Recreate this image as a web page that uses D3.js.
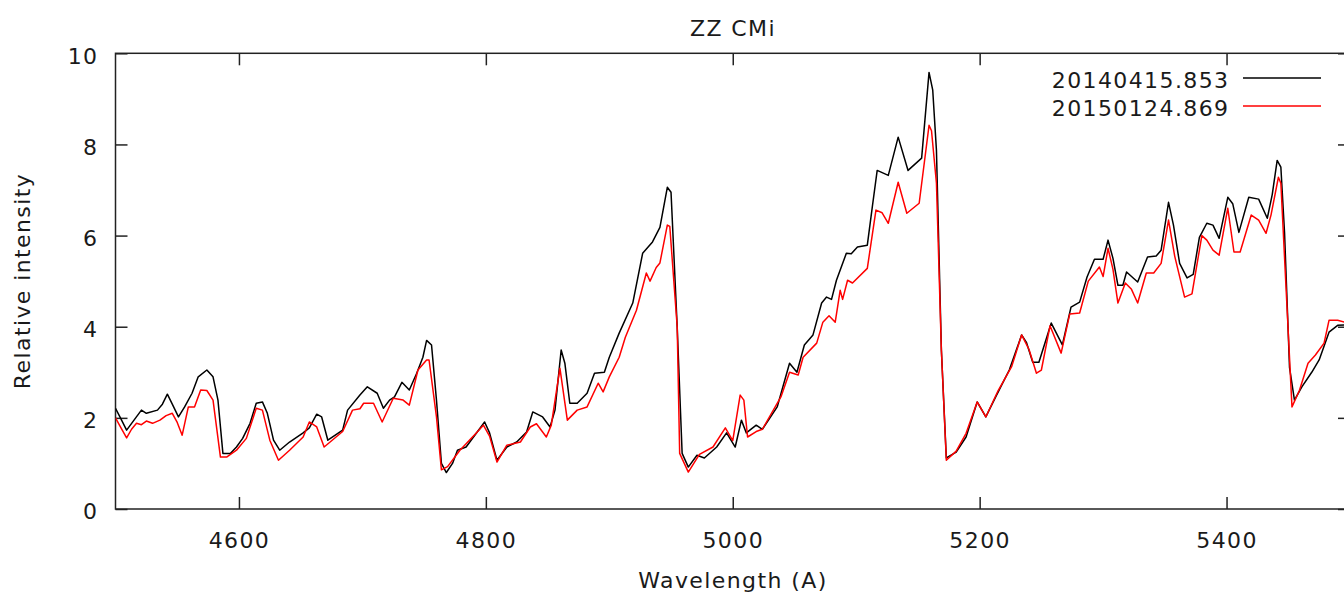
<!DOCTYPE html>
<html>
<head>
<meta charset="utf-8">
<script src="https://cdn.jsdelivr.net/npm/d3@7"></script>
<style>
  body { margin: 0; background: #fff; }
  text { font-family: "DejaVu Sans", Verdana, sans-serif; font-size: 22px; fill: #1a1a1a; letter-spacing: 1.4px; }
</style>
</head>
<body>
<div id="chart"></div>
<script>
// spectrum samples (wavelength in A, relative intensity)
var blackWave = [4500,4504,4509,4515,4521,4525,4534,4538,4542,4546,4551,4556,4562,4567,4574,4579,4583,4587,4593,4598,
	4603,4609,4614,4619,4623,4628,4633,4641,4652,4657,4663,4667,4672,4684,4688,4698,4704,4712,4717,4722,
	4726,4732,4738,4744,4749,4752,4756,4760,4764,4768,4773,4777,4784,4793,4799,4803,4809,4817,4825,4833,
	4838,4846,4852,4856,4861,4864,4868,4874,4882,4888,4896,4900,4908,4919,4927,4935,4941,4947,4950,4955,
	4959,4964,4971,4977,4987,4995,5002,5007,5011,5019,5024,5036,5046,5052,5058,5065,5072,5076,5080,5084,
	5092,5096,5101,5109,5113,5117,5126,5134,5142,5153,5159,5162,5165,5169,5173,5181,5189,5198,5205,5213,
	5224,5234,5238,5243,5248,5258,5267,5274,5281,5287,5293,5300,5304,5308,5312,5316,5319,5328,5336,5343,
	5347,5353,5357,5362,5368,5373,5378,5384,5389,5394,5401,5405,5410,5418,5426,5433,5437,5441,5444,5447,
	5451,5455,5461,5469,5475,5483,5490,5500];
var blackFlux = [2.21,2.0,1.73,1.95,2.17,2.1,2.17,2.3,2.52,2.3,2.02,2.24,2.54,2.9,3.05,2.9,2.39,1.22,1.22,1.36,
	1.55,1.88,2.32,2.35,2.1,1.51,1.29,1.47,1.67,1.78,2.08,2.02,1.51,1.73,2.17,2.5,2.68,2.54,2.21,2.39,
	2.46,2.78,2.61,2.98,3.33,3.7,3.6,2.39,1.0,0.8,1.0,1.29,1.36,1.69,1.91,1.67,1.07,1.36,1.47,1.69,
	2.13,2.02,1.8,2.17,3.49,3.2,2.32,2.32,2.54,2.98,3.0,3.33,3.86,4.52,5.61,5.86,6.18,7.06,6.95,4.0,
	1.22,0.92,1.18,1.12,1.36,1.67,1.36,1.95,1.67,1.84,1.75,2.24,3.2,3.0,3.6,3.82,4.52,4.65,4.6,5.02,
	5.61,5.6,5.75,5.79,6.62,7.43,7.32,8.16,7.43,7.7,9.58,9.19,7.87,3.49,1.12,1.25,1.58,2.35,2.02,2.46,
	3.05,3.82,3.65,3.22,3.22,4.08,3.6,4.43,4.54,5.09,5.48,5.48,5.9,5.5,4.91,4.91,5.2,4.98,5.53,5.55,
	5.68,6.73,6.23,5.39,5.07,5.15,5.96,6.27,6.23,5.94,6.84,6.7,6.07,6.84,6.8,6.38,6.9,7.65,7.5,6.05,
	3.11,2.39,2.68,3.0,3.27,3.88,4.03,4.05];

var redWave = [4500,4504,4509,4513,4517,4521,4525,4530,4536,4541,4546,4550,4554,4559,4564,4569,4574,4579,4585,4590,
	4598,4606,4614,4619,4625,4632,4641,4652,4657,4663,4669,4684,4692,4698,4701,4709,4716,4725,4733,4738,
	4745,4752,4754,4760,4764,4769,4779,4793,4798,4803,4809,4817,4828,4836,4841,4849,4853,4860,4866,4874,
	4882,4891,4895,4900,4908,4913,4922,4930,4933,4938,4941,4947,4949,4955,4957,4964,4973,4984,4994,5000,
	5006,5009,5012,5019,5024,5039,5046,5053,5057,5068,5073,5078,5083,5087,5089,5093,5097,5109,5116,5121,
	5126,5134,5141,5151,5159,5161,5165,5169,5173,5181,5189,5198,5205,5215,5226,5234,5240,5246,5250,5257,
	5266,5273,5281,5288,5297,5300,5304,5308,5312,5318,5323,5328,5335,5341,5347,5353,5358,5366,5372,5380,
	5384,5389,5394,5401,5406,5411,5420,5426,5432,5436,5442,5444,5448,5453,5459,5466,5472,5479,5483,5490,
	5500];
var redFlux = [2.0,1.8,1.56,1.75,1.88,1.85,1.93,1.88,1.95,2.05,2.1,1.9,1.62,2.24,2.24,2.61,2.6,2.39,1.14,1.14,
	1.29,1.55,2.21,2.17,1.51,1.07,1.29,1.58,1.91,1.8,1.36,1.7,2.17,2.2,2.32,2.32,1.91,2.43,2.39,2.28,
	3.05,3.27,3.27,2.02,0.86,0.93,1.29,1.69,1.84,1.6,1.03,1.4,1.47,1.8,1.87,1.58,1.84,3.09,1.95,2.17,
	2.24,2.76,2.57,2.9,3.33,3.77,4.36,5.18,5.0,5.3,5.4,6.23,6.2,4.0,1.22,0.81,1.2,1.36,1.78,1.5,
	2.5,2.39,1.58,1.7,1.75,2.46,3.0,2.94,3.33,3.64,4.1,4.24,4.1,4.8,4.6,5.02,4.96,5.28,6.56,6.5,
	6.27,7.17,6.49,6.71,8.42,8.3,7.15,3.49,1.07,1.27,1.66,2.35,2.02,2.6,3.13,3.82,3.5,2.98,3.05,4.02,
	3.42,4.28,4.3,5.0,5.31,5.1,5.72,5.26,4.52,4.96,4.82,4.52,5.18,5.18,5.39,6.34,5.55,4.65,4.72,6.0,
	5.9,5.68,5.57,6.6,5.64,5.64,6.45,6.34,6.05,6.45,7.28,7.15,4.96,2.24,2.6,3.2,3.38,3.64,4.14,4.14,
	4.07];

var seriesNames = ['20140415.853', '20150124.869'];
var seriesColors = ['#000000', '#ff0000'];
var xTicks = [4600, 4800, 5000, 5200, 5400];
var yTicks = [0, 2, 4, 6, 8, 10];

function drawSpectrum() {
	var width = 1344,
		height = 594;
	var left = 115.5, right = 1350, top = 53.3, bottom = 509;
	var tickLen = 12;

	var x = d3.scaleLinear().domain([4500, 5500]).range([left, right]);
	var y = d3.scaleLinear().domain([0, 10]).range([bottom, top]);

	var svg = d3.select('#chart').append('svg')
		.attr('width', width)
		.attr('height', height);

	svg.append('defs').append('clipPath').attr('id', 'plotclip')
		.append('rect')
		.attr('x', left).attr('y', top)
		.attr('width', right - left).attr('height', bottom - top);

	// bottom axis, ticks pointing in
	var gx = svg.append('g')
		.attr('transform', 'translate(0,' + bottom + ')')
		.call(d3.axisBottom(x).tickValues(xTicks).tickSize(-tickLen).tickFormat(d3.format('d')));
	gx.selectAll('text').attr('y', 39).attr('dy', 0);

	// mirrored top ticks
	svg.append('g')
		.attr('transform', 'translate(0,' + top + ')')
		.call(d3.axisTop(x).tickValues(xTicks).tickSize(-tickLen).tickFormat(''));

	var gy = svg.append('g')
		.attr('transform', 'translate(' + left + ',0)')
		.call(d3.axisLeft(y).tickValues(yTicks).tickSize(-tickLen).tickPadding(17));
	gy.selectAll('text').attr('dy', '0.45em');

	// right side ticks (frame itself is outside the picture)
	svg.append('g')
		.attr('transform', 'translate(' + right + ',0)')
		.call(d3.axisRight(y).tickValues(yTicks).tickSize(-tickLen).tickFormat(''));

	svg.selectAll('.domain').remove();
	svg.selectAll('.tick line').attr('stroke', '#222').attr('stroke-width', 1.5);
	svg.selectAll('.tick text').style('font-size', '22px').attr('fill', '#1a1a1a');

	svg.append('rect')
		.attr('x', left).attr('y', top)
		.attr('width', right - left).attr('height', bottom - top)
		.attr('fill', 'none')
		.attr('stroke', '#222')
		.attr('stroke-width', 1.5);

	var line = d3.line()
		.x(function(d) { return x(d[0]); })
		.y(function(d) { return y(d[1]); });

	var series = [
		d3.zip(blackWave, blackFlux),
		d3.zip(redWave, redFlux)
	];

	svg.append('g').attr('clip-path', 'url(#plotclip)')
		.selectAll('path')
		.data(series)
		.enter().append('path')
		.attr('d', line)
		.attr('fill', 'none')
		.attr('stroke', function(d, i) { return seriesColors[i]; })
		.attr('stroke-width', 1.5)
		.attr('stroke-linejoin', 'round');

	// legend
	var legend = svg.selectAll('.legend')
		.data(seriesNames)
		.enter().append('g')
		.attr('class', 'legend')
		.attr('transform', function(d, i) { return 'translate(0,' + (i * 28) + ')'; });

	legend.append('text')
		.attr('x', 1229.5)
		.attr('y', 88)
		.attr('text-anchor', 'end')
		.text(function(d) { return d; });

	legend.append('line')
		.attr('x1', 1243).attr('x2', 1321)
		.attr('y1', 78).attr('y2', 78)
		.attr('stroke', function(d, i) { return seriesColors[i]; })
		.attr('stroke-width', 1.5);

	// titles
	svg.append('text')
		.attr('x', 733).attr('y', 36)
		.attr('text-anchor', 'middle')
		.text('ZZ CMi');

	svg.append('text')
		.attr('x', 733).attr('y', 588)
		.attr('text-anchor', 'middle')
		.text('Wavelength (A)');

	svg.append('text')
		.attr('transform', 'translate(30,281) rotate(-90)')
		.attr('text-anchor', 'middle')
		.text('Relative intensity');
}

drawSpectrum();
</script>
</body>
</html>
